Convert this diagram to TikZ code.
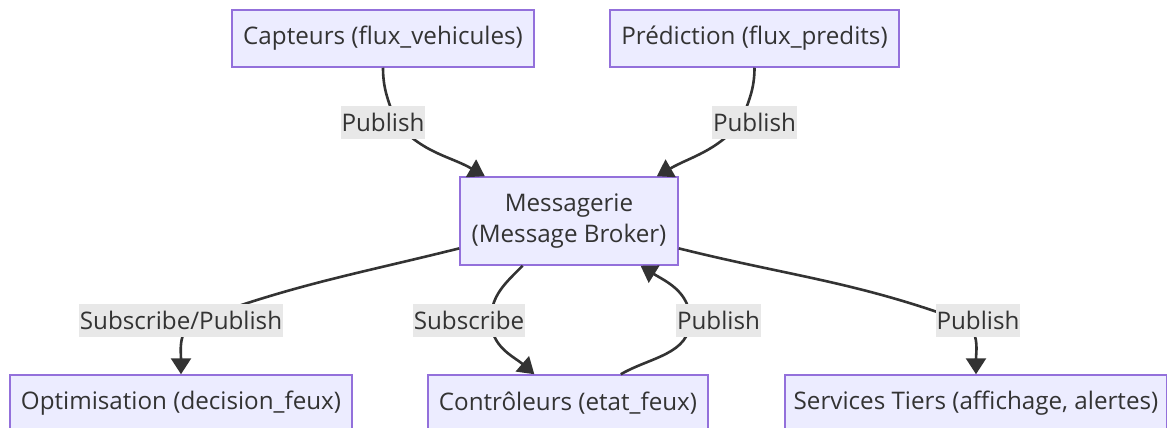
\documentclass[tikz,border=0pt]{standalone}
\usepackage{fontspec}
\setmainfont{Open Sans}
\usetikzlibrary{arrows.meta}
\definecolor{boxfill}{HTML}{ECECFF}
\definecolor{boxline}{HTML}{9370DB}
\definecolor{inkgray}{HTML}{333333}
\definecolor{lblgray}{HTML}{E8E8E8}
\tikzset{
  box/.style={draw=boxline, fill=boxfill, line width=1.5pt, text=inkgray,
    font=\fontsize{24.2}{31}\selectfont, inner sep=0pt, align=center,
    minimum height=57pt},
  lbl/.style={fill=lblgray, text=inkgray, font=\fontsize{24.2}{31}\selectfont,
    inner xsep=1pt, inner ysep=0pt, minimum height=33pt},
  flow/.style={draw=inkgray, line width=2.6pt,
    -{Triangle[length=16pt,width=20pt]}}
}
\begin{document}
\begin{tikzpicture}[x=1pt,y=-1pt]
\useasboundingbox (0,0) rectangle (1167,428);
% nodes
\node[box, minimum width=302pt] (cap) at (383,38.5) {Capteurs (flux\_vehicules)};
\node[box, minimum width=289pt] (pred) at (754.5,38.5) {Prédiction (flux\_predits)};
\node[box, minimum width=218pt, minimum height=88pt] (msg) at (569,221) {Messagerie\\(Message Broker)};
\node[box, minimum width=342pt] (opt) at (181,403.5) {Optimisation (decision\_feux)};
\node[box, minimum width=280pt] (ctl) at (568,403.5) {Contrôleurs (etat\_feux)};
\node[box, minimum width=382pt] (svc) at (976,403.5) {Services Tiers (affichage, alertes)};
% points where the connectors pass their labels
\coordinate (p1) at (396,122);
\coordinate (p2) at (741,122);
\coordinate (p3) at (198,320);
\coordinate (p4) at (491,320);
\coordinate (p5) at (690,320);
\coordinate (p6) at (960,320);
% connectors
\draw[flow] (cap.south) to[out=-90,in=110] (p1) node[lbl,xshift=-13pt]{Publish} to[out=-50,in=150] (msg.152);
\draw[flow] (pred.south) to[out=-90,in=70] (p2) node[lbl,xshift=13.5pt]{Publish} to[out=-130,in=30] (msg.27);
\draw[flow] (msg.194) to[out=194,in=20] (p3) node[lbl,xshift=-17pt]{Subscribe/Publish} to[out=-160,in=90] (opt.north);
\draw[flow] (msg.224) to[out=225,in=90] (p4) node[lbl,xshift=-22pt]{Subscribe} to[out=-90,in=139] (ctl.139);
\draw[flow] (ctl.29) to[out=30,in=-90] (p5) node[lbl,xshift=28.5pt]{Publish} to[out=90,in=-32] (msg.-32);
\draw[flow] (msg.-14) to[out=-14,in=160] (p6) node[lbl,xshift=18pt]{Publish} to[out=-20,in=90] (svc.north);
\end{tikzpicture}
\end{document}
